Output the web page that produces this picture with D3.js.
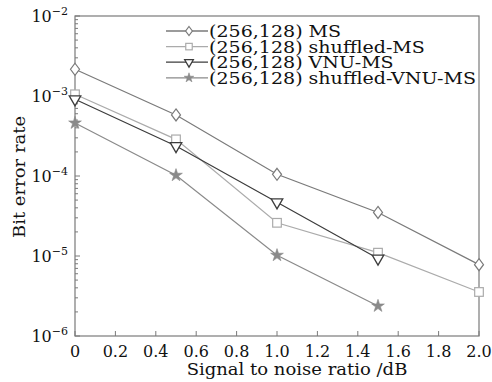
<!DOCTYPE html>
<meta charset="utf-8">
<title>BER</title>
<style>
body { margin: 0; background: #fff; }
text { font-family: "DejaVu Serif", serif; fill: #111; }
</style>
<script src="https://d3js.org/d3.v7.min.js"></script>
<body>
<script>
var width = 492, height = 382;
var margin = {top: 16, right: 13, bottom: 46, left: 75};

// data
var snr = [0, 0.5, 1.0, 1.5, 2.0];
var ms = [2.16e-3, 5.8e-4, 1.05e-4, 3.5e-5, 7.8e-6];
var shuffledMs = [1.05e-3, 2.87e-4, 2.6e-5, 1.1e-5, 3.55e-6];
var vnuMs = [9.1e-4, 2.37e-4, 4.7e-5, 9.3e-6];
var shuffledVnuMs = [4.6e-4, 1.02e-4, 1.02e-5, 2.37e-6];
var names = ["(256,128) MS", "(256,128) shuffled-MS", "(256,128) VNU-MS", "(256,128) shuffled-VNU-MS"];
var xTicks = [0, 0.2, 0.4, 0.6, 0.8, 1.0, 1.2, 1.4, 1.6, 1.8, 2.0];
var yExps = [-2, -3, -4, -5, -6];

var series = [
  {name: names[0], vals: ms, color: "#7a7a7a", sym: "diamond"},
  {name: names[1], vals: shuffledMs, color: "#ababab", sym: "square"},
  {name: names[2], vals: vnuMs, color: "#3c3c3c", sym: "tri"},
  {name: names[3], vals: shuffledVnuMs, color: "#8a8a8a", sym: "star"}
];

var svg = d3.select("body").append("svg")
    .attr("width", width)
    .attr("height", height);

var x = d3.scaleLinear().domain([0, 2]).range([margin.left, width - margin.right]);
var y = d3.scaleLog().domain([1e-6, 1e-2]).range([height - margin.bottom, margin.top]);

var axisColor = "#7a7a7a";

// frame
svg.append("rect")
    .attr("x", x(0)).attr("y", y(1e-2))
    .attr("width", x(2) - x(0)).attr("height", y(1e-6) - y(1e-2))
    .attr("fill", "none").attr("stroke", axisColor).attr("stroke-width", 1.2);

// x ticks (inside)
var xa = svg.append("g");
xa.selectAll("line").data(xTicks).enter().append("line")
    .attr("x1", d => x(d)).attr("x2", d => x(d))
    .attr("y1", y(1e-6)).attr("y2", y(1e-6) - 5)
    .attr("stroke", axisColor);
xa.selectAll("text").data(xTicks).enter().append("text")
    .attr("x", d => x(d)).attr("y", 357)
    .attr("text-anchor", "middle")
    .style("font-size", "16px")
    .text(d => d === 0 ? "0" : d3.format(".1f")(d));

// y ticks (log, inside)
var minor = [];
for (var e = -6; e < -2; e++) for (var m = 2; m <= 9; m++) minor.push(m * Math.pow(10, e));
var ya = svg.append("g");
ya.selectAll("line.minor").data(minor).enter().append("line")
    .attr("class", "minor")
    .attr("x1", x(0)).attr("x2", x(0) + 3)
    .attr("y1", d => y(d)).attr("y2", d => y(d))
    .attr("stroke", axisColor);
ya.selectAll("line.major").data(yExps).enter().append("line")
    .attr("class", "major")
    .attr("x1", x(0)).attr("x2", x(0) + 5)
    .attr("y1", d => y(Math.pow(10, d))).attr("y2", d => y(Math.pow(10, d)))
    .attr("stroke", axisColor);
var yl = ya.selectAll("text").data(yExps).enter().append("text")
    .attr("x", 68).attr("y", d => y(Math.pow(10, d)) + 6)
    .attr("text-anchor", "end")
    .style("font-size", "16px");
yl.append("tspan").text("10");
yl.append("tspan").attr("dy", -7).style("font-size", "11px").text(d => "\u2212" + (-d));

// axis titles (Century-like wide serif: stretch DejaVu a bit)
svg.append("text")
    .attr("transform", "translate(297,375) scale(1.06,1)")
    .attr("text-anchor", "middle")
    .style("font-size", "17px")
    .text("Signal to noise ratio /dB");
svg.append("text")
    .attr("transform", "translate(25,177) rotate(-90) scale(1.06,1)")
    .attr("text-anchor", "middle")
    .style("font-size", "17px")
    .text("Bit error rate");

function marker(g, s, size) {
  if (s.sym === "diamond") {
    g.append("path").attr("d", "M0,-" + size + "L" + size * 0.75 + ",0L0," + size + "L-" + size * 0.75 + ",0Z")
      .attr("fill", "#fff").attr("stroke", s.color).attr("stroke-width", 1.2);
  } else if (s.sym === "square") {
    var h = size * 0.72;
    g.append("rect").attr("x", -h).attr("y", -h).attr("width", 2 * h).attr("height", 2 * h)
      .attr("fill", "#fff").attr("stroke", s.color).attr("stroke-width", 1.2);
  } else if (s.sym === "tri") {
    g.append("path").attr("d", d3.symbol(d3.symbolTriangle, size * size * 1.6)())
      .attr("transform", "rotate(180)")
      .attr("fill", "#fff").attr("stroke", s.color).attr("stroke-width", 1.3);
  } else {
    g.append("path").attr("d", d3.symbol(d3.symbolStar, size * size * 1.4)())
      .attr("fill", s.color).attr("stroke", s.color).attr("stroke-width", 0.6);
  }
}

var line = d3.line().x((d, i) => x(snr[i])).y(d => y(d));
series.forEach(function(s) {
  svg.append("path").datum(s.vals)
      .attr("d", line)
      .attr("fill", "none").attr("stroke", s.color).attr("stroke-width", 1.2);
  s.vals.forEach(function(v, i) {
    var g = svg.append("g").attr("transform", "translate(" + x(snr[i]) + "," + y(v) + ")");
    marker(g, s, 6);
  });
});

// legend
var leg = svg.append("g");
series.forEach(function(s, i) {
  var ly = 31 + i * 15.6;
  leg.append("line").attr("x1", 166).attr("x2", 208).attr("y1", ly).attr("y2", ly)
      .attr("stroke", s.color).attr("stroke-width", 1.3);
  var g = leg.append("g").attr("transform", "translate(189," + ly + ")");
  marker(g, s, 4.5);
  leg.append("text")
      .attr("transform", "translate(209," + (ly + 6) + ") scale(1.19,1)")
      .style("font-size", "16px")
      .text(s.name);
});
</script>
